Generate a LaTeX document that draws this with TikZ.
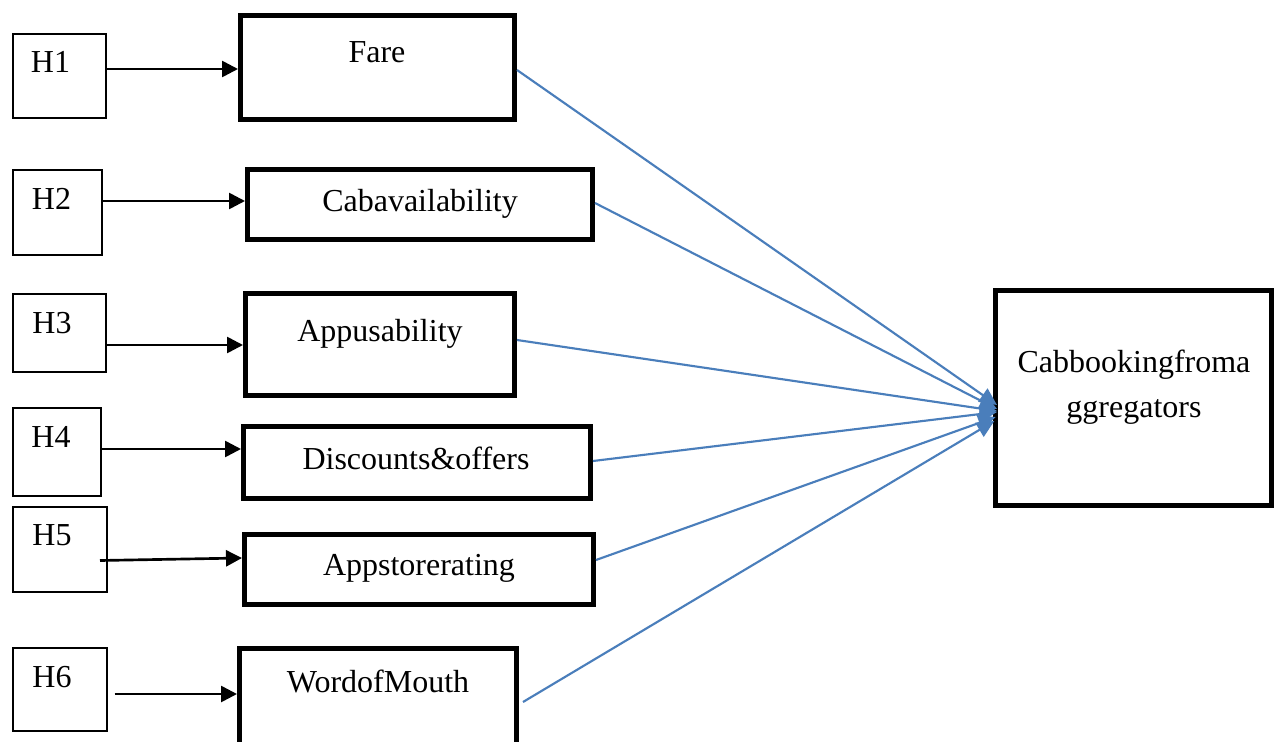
\documentclass[tikz,border=0pt]{standalone}
\usepackage{fontspec}
\setmainfont{Liberation Serif}
\usetikzlibrary{arrows.meta,calc}
\definecolor{wordblue}{HTML}{4A7EBB}
\newcommand{\mybox}[6]{%
  \node[#2, minimum width={(#5-#3)*0.75pt}, minimum height={(#6-#4)*0.75pt}]
    (#1) at ({(#3+#5)/2},{(#4+#6)/2}) {};}
\begin{document}
\begin{tikzpicture}[x=0.75pt,y=-0.75pt,
  hbox/.style={draw=black, line width=1.5pt, inner sep=0pt, rectangle},
  vbox/.style={draw=black, line width=3.75pt, inner sep=0pt, rectangle},
  lbl/.style={anchor=base, inner sep=0pt, font=\fontsize{24pt}{33.75pt}\selectfont},
  barrow/.style={draw=black, line width=2pt, -{Triangle[length=12pt,width=12pt]}},
  blarrow/.style={draw=wordblue, line width=1.6pt, -{Triangle[length=13pt,width=12pt]}}]
\useasboundingbox (0,0) rectangle (1275,742);
\fill[white] (0,0) rectangle (1275,742);
% hypothesis boxes
\mybox{h1}{hbox}{13}{34}{106}{118}
\mybox{h2}{hbox}{13}{170}{102}{255}
\mybox{h3}{hbox}{13}{294}{106}{372}
\mybox{h4}{hbox}{13}{408}{101}{496}
\mybox{h5}{hbox}{13}{507}{107}{592}
\mybox{h6}{hbox}{13}{648}{107}{731}
\node[lbl] (h1t) at (50.5,73) {H1};
\node[lbl] (h2t) at (51.5,209) {H2};
\node[lbl] (h3t) at (52,333) {H3};
\node[lbl] (h4t) at (51,447) {H4};
\node[lbl] (h5t) at (52,545) {H5};
\node[lbl] (h6t) at (52,687) {H6};
% variable boxes
\mybox{fare}{vbox}{240.5}{15.5}{514.5}{119.5}
\mybox{cab}{vbox}{247.5}{169.5}{592.5}{239.5}
\mybox{app}{vbox}{245.5}{293.5}{514.5}{395.5}
\mybox{disc}{vbox}{243.5}{426.5}{590.5}{498.5}
\mybox{aps}{vbox}{244.5}{534.5}{593.5}{604.5}
\mybox{wom}{vbox}{239.5}{648.5}{516.5}{790}
\mybox{tgt}{vbox}{995.5}{290.5}{1271.5}{505.5}
\node[lbl] (faret) at (377,63) {Fare};
\node[lbl] (cabt) at (420,211) {Cabavailability};
\node[lbl] (appt) at (380,341) {Appusability};
\node[lbl] (disct) at (416,469) {Discounts\&offers};
\node[lbl] (apst) at (419,575) {Appstorerating};
\node[lbl] (womt) at (378,692) {WordofMouth};
\node[lbl] (tgt1) at (1134,372) {Cabbookingfroma};
\node[lbl] (tgt2) at (1134,417) {ggregators};
% black arrows
\draw[barrow] (h1.east |- 0,69) -- (fare.west |- 0,69);
\draw[barrow] (h2.east |- 0,201) -- (cab.west |- 0,201);
\draw[barrow] (h3.east |- 0,345) -- (app.west |- 0,345);
\draw[barrow] (h4.east |- 0,449) -- (disc.west |- 0,449);
\draw[barrow] ([xshift=-6pt]h5.east |- 0,560.5) -- (aps.west |- 0,558);
\draw[barrow] ([xshift=5pt]h6.east |- 0,694) -- (wom.west |- 0,694);
% blue arrows
\draw[blarrow] (fare.east |- 0,70) -- ([xshift=3pt]tgt.west |- 0,405);
\draw[blarrow] (cab.east |- 0,203) -- ([xshift=3pt]tgt.west |- 0,409);
\draw[blarrow] (app.east |- 0,340) -- ([xshift=3pt]tgt.west |- 0,411);
\draw[blarrow] (disc.east |- 0,461) -- ([xshift=3pt]tgt.west |- 0,412);
\draw[blarrow] (aps.east |- 0,560) -- ([xshift=2pt]tgt.west |- 0,417);
\draw[blarrow] ([xshift=3pt]wom.east |- 0,702) -- ([xshift=1pt]tgt.west |- 0,421);
\end{tikzpicture}
\end{document}
